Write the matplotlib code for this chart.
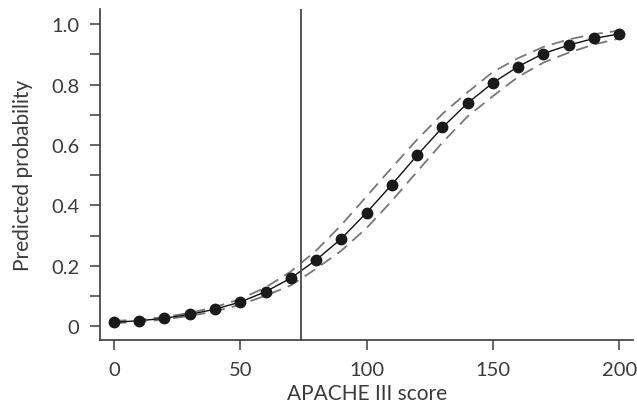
import numpy as np
import matplotlib.pyplot as plt
from matplotlib.ticker import FixedLocator, FixedFormatter

plt.rcParams['font.family'] = ['Lato', 'DejaVu Sans']

# APACHE III score grid and fitted probabilities with 95% band
score = [0, 10, 20, 30, 40, 50, 60, 70, 80, 90, 100,
         110, 120, 130, 140, 150, 160, 170, 180, 190, 200]
prob = [0.013, 0.018, 0.026, 0.039, 0.056, 0.080, 0.114, 0.159, 0.219, 0.290, 0.376,
        0.469, 0.566, 0.658, 0.739, 0.806, 0.860, 0.903, 0.931, 0.953, 0.968]
upper = [0.017, 0.022, 0.030, 0.044, 0.063, 0.090, 0.128, 0.181, 0.250, 0.335, 0.430,
         0.525, 0.618, 0.703, 0.775, 0.842, 0.888, 0.925, 0.950, 0.967, 0.979]
lower = [0.010, 0.014, 0.022, 0.034, 0.049, 0.071, 0.101, 0.135, 0.190, 0.250, 0.325,
         0.415, 0.512, 0.608, 0.695, 0.762, 0.826, 0.873, 0.906, 0.933, 0.953]
cutoff = 74

ink = '#3a3a3a'

fig = plt.figure(figsize=(6.37, 4.06), dpi=100)
ax = fig.add_axes([0.157, 0.160, 0.837, 0.815])

ax.plot(score, upper, color='#777777', lw=1.3, dashes=(7, 4))
ax.plot(score, lower, color='#777777', lw=1.3, dashes=(7, 4))
ax.plot(score, prob, color='#111111', lw=1.0, marker='o', ms=7.5,
        markerfacecolor='#1a1a1a', markeredgecolor='#1a1a1a')
ax.axvline(cutoff, color='#555555', lw=1.4)

ax.set_xlim(-5.5, 205.5)
ax.set_ylim(-0.046, 1.05)

ax.set_xticks([0, 50, 100, 150, 200])
ax.yaxis.set_major_locator(FixedLocator([0, 0.2, 0.4, 0.6, 0.8, 1.0]))
ax.yaxis.set_major_formatter(FixedFormatter(['0', '0.2', '0.4', '0.6', '0.8', '1.0']))
ax.yaxis.set_minor_locator(FixedLocator([0.1, 0.3, 0.5, 0.7, 0.9]))

for s in ['top', 'right']:
    ax.spines[s].set_visible(False)
for s in ['left', 'bottom']:
    ax.spines[s].set_color(ink)
    ax.spines[s].set_linewidth(1.2)

ax.tick_params(which='both', direction='out', length=7, width=1.1, color=ink,
               labelcolor=ink, labelsize=14.5)
ax.tick_params(axis='x', pad=8)
ax.tick_params(axis='y', pad=8)

ax.set_xlabel('APACHE III score', color=ink, fontsize=15, labelpad=4)
ax.set_ylabel('Predicted probability', color=ink, fontsize=15, labelpad=13)

fig.savefig('out.png', dpi=100)
